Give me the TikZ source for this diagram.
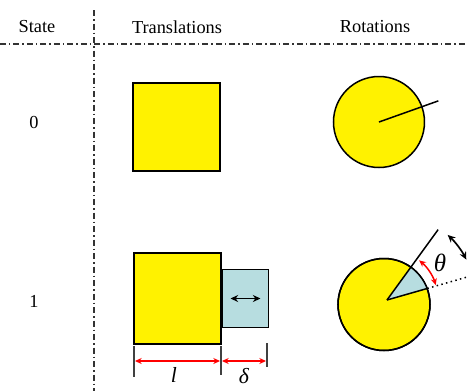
\documentclass[tikz,border=0pt]{standalone}
\usepackage{fontspec}
\setmainfont{Liberation Serif}
\usetikzlibrary{positioning, arrows.meta}

\definecolor{slideblue}{RGB}{183,221,224}

\tikzset{
    divider/.style={line width=0.7pt, black!80, dash pattern=on 3.6pt off 1.8pt on 0.9pt off 1.8pt},
    head/.style={font=\fontsize{11}{13}\selectfont},
    block/.style={draw, fill=yellow, line width=0.9pt, inner sep=0pt, minimum width=52.2pt},
    slider/.style={draw, fill=slideblue, line width=0.9pt, inner sep=0pt, minimum width=27.6pt, minimum height=34.8pt},
    disc/.style={circle, draw, fill=yellow, line width=0.9pt, inner sep=0pt},
    dimtick/.style={line width=1.1pt, black!75},
    dimarrow/.style={red, line width=0.9pt, {Stealth[length=4pt,width=3.6pt]}-{Stealth[length=4pt,width=3.6pt]}},
    movearrow/.style={black, line width=1pt, {Stealth[length=4.6pt,width=4.2pt]}-{Stealth[length=4.6pt,width=4.2pt]}},
    sym/.style={font=\fontsize{13}{15}\selectfont\itshape}
}

\begin{document}
\begin{tikzpicture}[x=0.6pt, y=0.6pt]
    \useasboundingbox (0,0) rectangle (467,-391);
    \clip (0,0) rectangle (467,-391);

    % table lines and headings
    \draw[divider] (94,-10) -- (94,-391);
    \draw[divider] (0,-44) -- (467,-44);
    \node[head] (hstate) at (37,-27) {State};
    \node[head] (htrans) at (177,-27) {Translations};
    \node[head] (hrot) at (375,-27) {Rotations};
    \node[head] (s0) at (34,-122) {0};
    \node[head] (s1) at (34,-301) {1};

    % state 0
    \node[block, minimum height=52.8pt] (sq0) at (176.5,-127) {};
    \node[disc, minimum size=54.6pt] (c0) at (379,-122) {};
    \draw[line width=0.9pt] (c0.center) -- +(19.6:63);

    % state 1, translation
    \node[block, minimum height=54.6pt] (sq1) at (177.5,-298.5) {};
    \node[slider, right=0pt of sq1] (sl) {};
    \draw[movearrow] ([xshift=-9pt]sl.center) -- ([xshift=9pt]sl.center);

    \coordinate (dl) at (134,-361);
    \coordinate (dm) at (221,-361);
    \coordinate (dr) at (267,-361);
    \draw[dimtick] (dl) ++(0,15) -- ++(0,-31);
    \draw[dimtick] (dm) ++(0,15) -- ++(0,-29);
    \draw[dimtick] (dr) ++(0,18) -- ++(0,-24);
    \draw[dimarrow] ([xshift=0.6pt]dl) -- ([xshift=-0.6pt]dm);
    \draw[dimarrow] ([xshift=0.6pt]dm) -- ([xshift=-0.6pt]dr);
    \node[sym] (len) at (174,-375) {l};
    \node[sym] (gap) at (244,-376) {δ};

    % state 1, rotation
    \node[disc, minimum size=55.2pt] (c1) at (384,-304.5) {};
    \coordinate (hub) at (387,-300);
    \begin{scope}
        \clip (c1.center) circle[radius=46];
        \fill[slideblue] (hub) -- +(16:80) -- +(54:80) -- cycle;
    \end{scope}
    \draw[line width=0.9pt] (c1.center) circle[radius=46];
    \draw[line width=0.9pt] (hub) -- +(54:87) coordinate (arm);
    \draw[line width=0.9pt] (hub) -- +(16:42) coordinate (rim);
    \draw[line width=0.9pt, dotted] (rim) -- +(16:50);
    \draw[dimarrow] (hub) ++(17:51) arc[start angle=17, end angle=51, radius=51];
    \draw[movearrow] (hub) ++(27:89) arc[start angle=27, end angle=47, radius=89];
    \node[font=\fontsize{15}{17}\selectfont\itshape] (ang) at (440,-263) {θ};
\end{tikzpicture}
\end{document}
